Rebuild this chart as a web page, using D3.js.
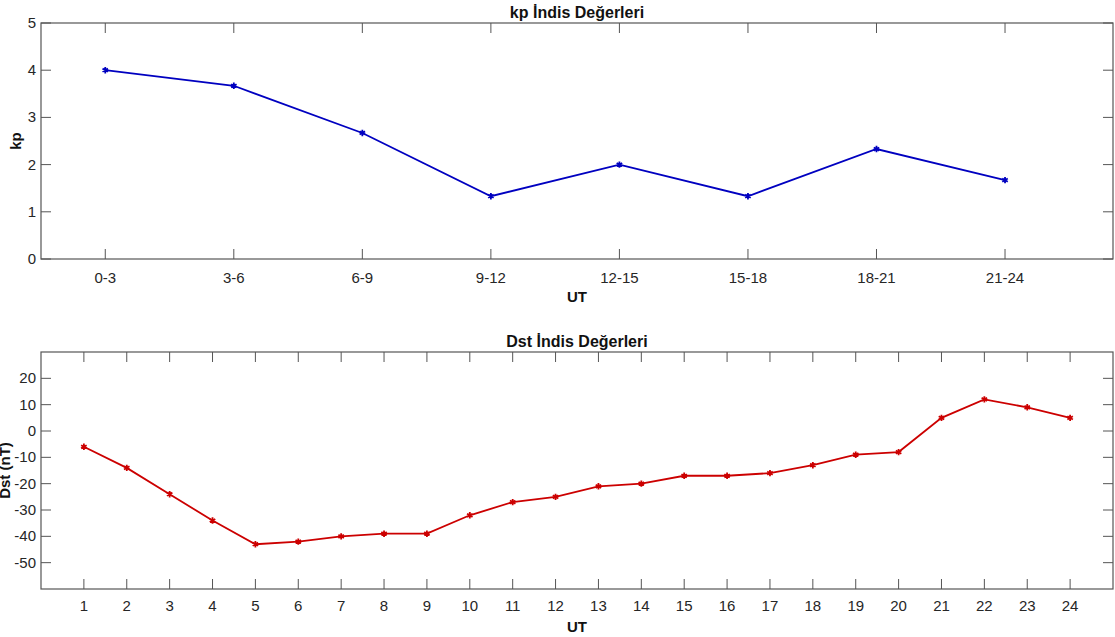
<!DOCTYPE html>
<html>
<head>
  <meta charset="utf-8">
  <title>kp / Dst</title>
  <script src="https://cdn.jsdelivr.net/npm/d3@7"></script>
  <style>
    body { margin: 0; background: #fff; }
    text { font-family: Arial, "Liberation Sans", sans-serif; fill: #262626; }
  </style>
</head>
<body>
  <svg width="1115" height="637" id="mainsvg"></svg>
  <script>
    // kp (3-hour intervals)
    const kpLabels = ['0-3', '3-6', '6-9', '9-12', '12-15', '15-18', '18-21', '21-24'];
    const kpValues = [4, 3.67, 2.67, 1.33, 2, 1.33, 2.33, 1.67];
    const kpTicks = [0, 1, 2, 3, 4, 5];

    // Dst hourly
    const dstHours = d3.range(1, 25);
    const dstValues = [-6, -14, -24, -34, -43, -42, -40, -39, -39, -32, -27, -25,
      -21, -20, -17, -17, -16, -13, -9, -8, 5, 12, 9, 5];
    const dstTicks = [-50, -40, -30, -20, -10, 0, 10, 20];

    const svg = d3.select('#mainsvg');
    const left = 41, right = 1113;
    const tickLen = 10;
    const axisColor = '#555';

    const panel = (cfg) => {
      const g = svg.append('g');
      const { top, bottom, x, y } = cfg;

      g.append('rect')
        .attr('x', left).attr('y', top)
        .attr('width', right - left).attr('height', bottom - top)
        .attr('fill', 'none').attr('stroke', axisColor).attr('stroke-width', 1.2);

      // x ticks (bottom + mirrored top, pointing inward)
      cfg.xTicks.forEach((t, i) => {
        const px = x(t);
        g.append('line').attr('x1', px).attr('x2', px)
          .attr('y1', bottom).attr('y2', bottom - tickLen).attr('stroke', axisColor);
        g.append('line').attr('x1', px).attr('x2', px)
          .attr('y1', top).attr('y2', top + tickLen).attr('stroke', axisColor);
        g.append('text').attr('x', px).attr('y', bottom + cfg.tickDy)
          .attr('text-anchor', 'middle').attr('font-size', 15)
          .text(cfg.xTickText[i]);
      });

      // y ticks (left + mirrored right)
      cfg.yTicks.forEach(t => {
        const py = y(t);
        g.append('line').attr('x1', left).attr('x2', left + tickLen)
          .attr('y1', py).attr('y2', py).attr('stroke', axisColor);
        g.append('line').attr('x1', right).attr('x2', right - tickLen)
          .attr('y1', py).attr('y2', py).attr('stroke', axisColor);
        g.append('text').attr('x', left - 5).attr('y', py + 5)
          .attr('text-anchor', 'end').attr('font-size', 15)
          .text(t);
      });

      // titles / labels
      g.append('text').attr('x', (left + right) / 2).attr('y', top - 5)
        .attr('text-anchor', 'middle').attr('font-size', 16).attr('font-weight', 'bold')
        .style('fill', '#111').text(cfg.title);
      g.append('text').attr('x', (left + right) / 2).attr('y', bottom + cfg.utDy)
        .attr('text-anchor', 'middle').attr('font-size', 15).attr('font-weight', 'bold')
        .style('fill', '#111').text('UT');
      g.append('text')
        .attr('transform', `translate(${cfg.ylabX}, ${(top + bottom) / 2}) rotate(-90)`)
        .attr('text-anchor', 'middle').attr('font-size', 15).attr('font-weight', 'bold')
        .style('fill', '#111').text(cfg.ylabel);

      // data
      const pts = cfg.xs.map((d, i) => [x(d), y(cfg.values[i])]);
      g.append('path').attr('d', d3.line()(pts))
        .attr('fill', 'none').attr('stroke', cfg.color).attr('stroke-width', 1.8);
      g.selectAll('.m').data(pts).join('path')
        .attr('transform', d => `translate(${d[0]},${d[1]})`)
        .attr('d', d3.symbol(d3.symbolAsterisk || d3.symbolCross, 28)())
        .attr('fill', cfg.color).attr('stroke', cfg.color).attr('stroke-width', 1.8);
    };

    // top: kp
    const kpIdx = d3.range(1, kpLabels.length + 1);
    const xKp = d3.scaleLinear().domain([0.5, 8.84]).range([left, right]);
    const yKp = d3.scaleLinear().domain([0, 5]).range([259, 23]);
    panel({
      top: 23, bottom: 259, x: xKp, y: yKp,
      xTicks: kpIdx, xTickText: kpLabels, yTicks: kpTicks,
      xs: kpIdx, values: kpValues, color: '#0000c0',
      title: 'kp İndis Değerleri', ylabel: 'kp', ylabX: 21,
      tickDy: 24, utDy: 43
    });

    // bottom: Dst
    const xDst = d3.scaleLinear().domain([0, 25]).range([left, right]);
    const yDst = d3.scaleLinear().domain([-60, 30]).range([589, 352]);
    panel({
      top: 352, bottom: 589, x: xDst, y: yDst,
      xTicks: dstHours, xTickText: dstHours, yTicks: dstTicks,
      xs: dstHours, values: dstValues, color: '#cc0000',
      title: 'Dst İndis Değerleri', ylabel: 'Dst (nT)', ylabX: 10,
      tickDy: 22, utDy: 43
    });
  </script>
</body>
</html>
